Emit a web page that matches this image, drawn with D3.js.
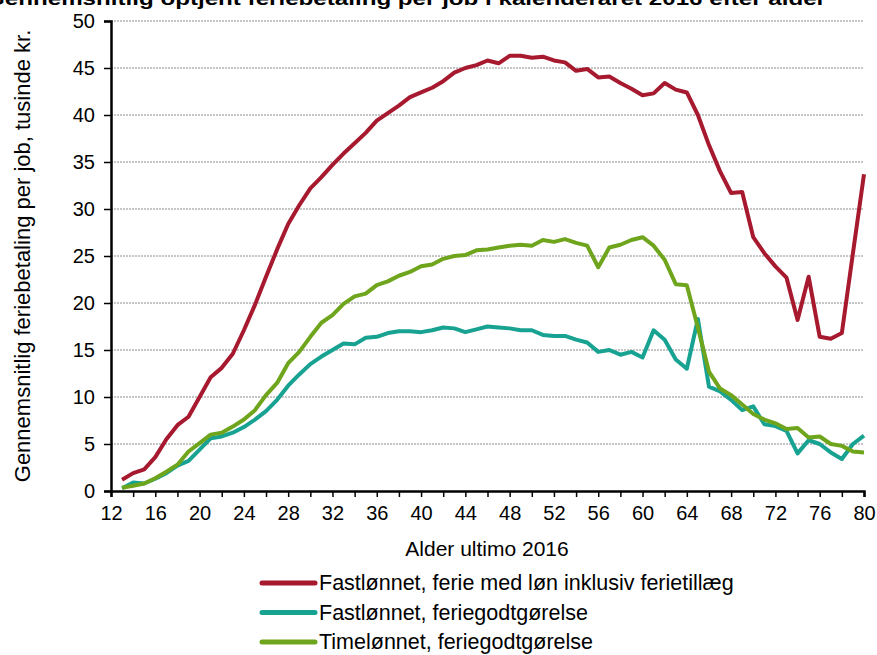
<!DOCTYPE html>
<html lang="da">
<head>
<meta charset="utf-8">
<script src="https://cdn.jsdelivr.net/npm/d3@7"></script>
<style>
    html, body { margin: 0; padding: 0; background: #ffffff; }
    svg { display: block; font-family: "Liberation Sans", Arial, sans-serif; }
</style>
</head>
<body>
<svg id="chart" width="877" height="655"></svg>
<script>
"use strict";

// Alder ultimo 2016
const ages = [13, 14, 15, 16, 17, 18, 19, 20, 21, 22, 23, 24, 25, 26, 27, 28, 29, 30,
    31, 32, 33, 34, 35, 36, 37, 38, 39, 40, 41, 42, 43, 44, 45, 46, 47, 48, 49, 50,
    51, 52, 53, 54, 55, 56, 57, 58, 59, 60, 61, 62, 63, 64, 65, 66, 67, 68, 69, 70,
    71, 72, 73, 74, 75, 76, 77, 78, 79, 80];

// Fastlønnet, ferie med løn inklusiv ferietillæg
const fastFerieMedLoen = [1.2, 1.9, 2.3, 3.6, 5.5, 7.0, 7.9, 10.0, 12.1, 13.1, 14.6, 17.1, 19.8, 22.8,
    25.7, 28.4, 30.4, 32.2, 33.4, 34.7, 35.9, 37.0, 38.1, 39.4, 40.2, 41.0, 41.9, 42.4,
    42.9, 43.6, 44.5, 45.0, 45.3, 45.8, 45.5, 46.3, 46.3, 46.1, 46.2, 45.8, 45.6, 44.7,
    44.9, 44.0, 44.1, 43.4, 42.8, 42.1, 42.3, 43.4, 42.7, 42.4, 40.0, 36.8, 34.0, 31.7,
    31.8, 27.0, 25.3, 23.9, 22.7, 18.2, 22.8, 16.4, 16.2, 16.8, 25.3, 33.7];

// Fastlønnet, feriegodtgørelse
const fastFeriegodtgoerelse = [0.3, 0.9, 0.8, 1.3, 1.9, 2.7, 3.2, 4.4, 5.6, 5.8, 6.2, 6.8, 7.6, 8.5,
    9.7, 11.2, 12.4, 13.5, 14.3, 15.0, 15.7, 15.6, 16.3, 16.4, 16.8, 17.0, 17.0, 16.9,
    17.1, 17.4, 17.3, 16.9, 17.2, 17.5, 17.4, 17.3, 17.1, 17.1, 16.6, 16.5, 16.5, 16.1,
    15.8, 14.8, 15.0, 14.5, 14.8, 14.2, 17.1, 16.1, 14.0, 13.0, 18.3, 11.1, 10.6, 9.7,
    8.6, 9.0, 7.1, 6.9, 6.4, 4.0, 5.4, 5.0, 4.1, 3.4, 5.0, 5.9];

// Timelønnet, feriegodtgørelse
const timeFeriegodtgoerelse = [0.35, 0.55, 0.8, 1.35, 2.05, 2.8, 4.2, 5.1, 6.0, 6.2, 6.85, 7.6, 8.6, 10.2,
    11.5, 13.6, 14.8, 16.4, 17.9, 18.7, 19.9, 20.7, 21.0, 21.9, 22.3, 22.9, 23.3, 23.9,
    24.1, 24.7, 25.0, 25.1, 25.6, 25.7, 25.9, 26.1, 26.2, 26.1, 26.7, 26.5, 26.8, 26.4,
    26.1, 23.8, 25.9, 26.2, 26.7, 27.0, 26.1, 24.6, 22.0, 21.9, 17.4, 12.7, 10.9, 10.2,
    9.2, 8.2, 7.6, 7.2, 6.6, 6.7, 5.7, 5.8, 5.0, 4.8, 4.2, 4.1];

const seriesNames = [
    "Fastlønnet, ferie med løn inklusiv ferietillæg",
    "Fastlønnet, feriegodtgørelse",
    "Timelønnet, feriegodtgørelse"
];
const seriesColors = ["#A6192E", "#18A292", "#6FA51C"];

const xTickValues = [12, 16, 20, 24, 28, 32, 36, 40, 44, 48, 52, 56, 60, 64, 68, 72, 76, 80];
const yTickValues = [0, 5, 10, 15, 20, 25, 30, 35, 40, 45, 50];

const titleText = "Gennemsnitlig optjent feriebetaling per job i kalenderåret 2016 efter alder";
const xTitle = "Alder ultimo 2016";
const yTitle = "Gennemsnitlig feriebetaling per job, tusinde kr.";

const series = [fastFerieMedLoen, fastFeriegodtgoerelse, timeFeriegodtgoerelse]
    .map((values, i) => ({name: seriesNames[i], color: seriesColors[i],
        points: ages.map((a, j) => [a, values[j]])}));

const svg = d3.select("#chart");

const x = d3.scaleLinear().domain([12, 80]).range([111, 864]),
    y = d3.scaleLinear().domain([0, 50]).range([491, 21]);

// Title, top half cropped in the original
svg.append("text")
    .attr("x", -14)
    .attr("y", 5)
    .attr("textLength", 840)
    .attr("lengthAdjust", "spacingAndGlyphs")
    .style("font-size", "19px")
    .style("font-weight", "bold")
    .text(titleText);

// Gridlines
svg.append("g")
    .selectAll("line")
    .data(yTickValues.filter((d) => d > 0))
    .join("line")
    .attr("x1", x(12))
    .attr("x2", x(80))
    .attr("y1", (d) => y(d))
    .attr("y2", (d) => y(d))
    .attr("stroke", "#8c8c8c")
    .attr("stroke-width", 1)
    .attr("stroke-dasharray", "2,1");

// Y axis
const yAxis = svg.append("g")
    .attr("transform", `translate(${x(12)},0)`)
    .call(d3.axisLeft(y).tickValues(yTickValues).tickSize(7).tickPadding(9));
yAxis.select(".domain").attr("stroke-width", 2.5);
yAxis.selectAll(".tick line").attr("stroke-width", 1.5);
yAxis.selectAll(".tick text")
    .style("font-size", "20px")
    .style("font-family", "'Liberation Sans', Arial, sans-serif")
    .attr("fill", "#000");

// X axis, minor ticks every 2 years
const xAxis = svg.append("g")
    .attr("transform", `translate(0,${y(0)})`)
    .call(d3.axisBottom(x).tickValues(d3.range(12, 81, 2)).tickSize(6).tickPadding(9)
        .tickFormat((d) => xTickValues.includes(d) ? d : ""));
xAxis.select(".domain").attr("stroke-width", 2.5);
xAxis.selectAll(".tick line").attr("stroke-width", 1.5);
xAxis.selectAll(".tick text")
    .style("font-size", "20px")
    .style("font-family", "'Liberation Sans', Arial, sans-serif")
    .attr("fill", "#000");

svg.append("text")
    .attr("x", 487)
    .attr("y", 556)
    .attr("text-anchor", "middle")
    .style("font-size", "21px")
    .text(xTitle);

svg.append("text")
    .attr("transform", "translate(30,256) rotate(-90)")
    .attr("text-anchor", "middle")
    .style("font-size", "22px")
    .text(yTitle);

// Lines
const line = d3.line()
    .x((d) => x(d[0]))
    .y((d) => y(d[1]));

svg.append("g")
    .selectAll("path")
    .data(series)
    .join("path")
    .attr("d", (d) => line(d.points))
    .attr("fill", "none")
    .attr("stroke", (d) => d.color)
    .attr("stroke-width", 4)
    .attr("stroke-linejoin", "round");

// Legend
const legend = svg.append("g")
    .selectAll("g")
    .data(series)
    .join("g")
    .attr("transform", (d, i) => `translate(262,${583 + i * 29.5})`);

legend.append("line")
    .attr("x1", 0)
    .attr("x2", 53)
    .attr("stroke", (d) => d.color)
    .attr("stroke-width", 5)
    .attr("stroke-linecap", "round");

legend.append("text")
    .attr("x", 57)
    .attr("dy", "0.33em")
    .style("font-size", "21.5px")
    .text((d) => d.name);
</script>
</body>
</html>
